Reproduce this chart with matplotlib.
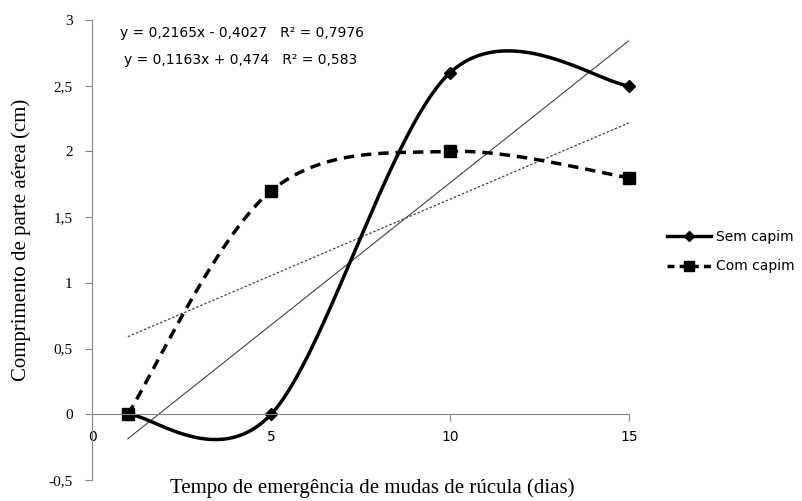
import numpy as np
import matplotlib.pyplot as plt

# data
dias = [1, 5, 10, 15]
sem_capim = [0, 0, 2.6, 2.5]
com_capim = [0, 1.7, 2.0, 1.8]
# linear trendlines (slope, intercept) from the equations shown
sem_fit = (0.2165, -0.4027)
com_fit = (0.1163, 0.474)
eq_sem = "y = 0,2165x - 0,4027   R² = 0,7976"
eq_com = "y = 0,1163x + 0,474   R² = 0,583"
yticks = [-0.5, 0, 0.5, 1, 1.5, 2, 2.5, 3]
xticks = [0, 5, 10, 15]


def smooth(xs, ys, n=60):
    # excel-like smoothed line: cubic bezier through the points
    p = np.column_stack([xs, ys]).astype(float)
    out = []
    for i in range(len(p) - 1):
        p0 = p[i - 1] if i > 0 else p[i]
        p1, p2 = p[i], p[i + 1]
        p3 = p[i + 2] if i + 2 < len(p) else p[i + 1]
        c1 = p1 + (p2 - p0) / 6
        c2 = p2 - (p3 - p1) / 6
        t = np.linspace(0, 1, n)[:, None]
        seg = (1 - t)**3 * p1 + 3 * (1 - t)**2 * t * c1 + 3 * (1 - t) * t**2 * c2 + t**3 * p2
        out.append(seg)
    seg = np.vstack(out)
    return seg[:, 0], seg[:, 1]


fig = plt.figure(figsize=(8.03, 5.01), dpi=100)
ax = fig.add_axes([0.1146, 0.042, 0.669, 0.918])

gray = '#888888'
# trendlines
xf = np.array([dias[0], dias[-1]])
ax.plot(xf, sem_fit[0] * xf + sem_fit[1], color='#444444', lw=0.8)
ax.plot(xf, com_fit[0] * xf + com_fit[1], color='#444444', lw=0.9, ls=(0, (2, 1.5)))

sx, sy = smooth(dias, sem_capim)
ax.plot(sx, sy, color='black', lw=2.5, clip_on=False)
ax.plot(dias, sem_capim, ls='none', marker='D', ms=6, color='black', clip_on=False)
cx, cy = smooth(dias, com_capim)
ax.plot(cx, cy, color='black', lw=2.5, ls=(0, (3, 2)), clip_on=False)
ax.plot(dias, com_capim, ls='none', marker='s', ms=9, color='black', clip_on=False)

# legend handles
h1, = ax.plot([], [], color='black', lw=2.5, marker='D', ms=5)
h2, = ax.plot([], [], color='black', lw=2.5, ls=(0, (2, 1.5)), marker='s', ms=7)
leg = fig.legend([h1, h2], ['Sem capim', 'Com capim'], loc='center left',
                 bbox_to_anchor=(0.815, 0.498), frameon=False, handlelength=3.2,
                 handletextpad=0.3, labelspacing=1.15,
                 prop={'family': 'DejaVu Sans', 'size': 10})

ax.set_xlim(0, 15)
ax.set_ylim(-0.5, 3)
ax.set_xticks(xticks)
ax.set_yticks(yticks)
ax.set_xticklabels([str(v) for v in xticks], family='Liberation Serif', fontsize=11)
ax.set_yticklabels([('%g' % v).replace('.', ',') for v in yticks],
                   family='Liberation Serif', fontsize=11)

for s in ['top', 'right']:
    ax.spines[s].set_visible(False)
ax.spines['bottom'].set_position(('data', 0))
ax.spines['bottom'].set_color(gray)
ax.spines['left'].set_color(gray)
ax.tick_params(axis='both', color=gray, length=5, direction='out')
ax.tick_params(axis='y', pad=9)
ax.tick_params(axis='x', pad=6)

ax.text(0.279, 0.972, eq_sem, transform=ax.transAxes, ha='center', va='center',
        family='DejaVu Sans', fontsize=10)
ax.text(0.277, 0.913, eq_com, transform=ax.transAxes, ha='center', va='center',
        family='DejaVu Sans', fontsize=10)

fig.text(0.463, 0.026, 'Tempo de emergência de mudas de rúcula (dias)',
         ha='center', va='center', family='Liberation Serif', fontsize=15)
fig.text(0.026, 0.521, 'Comprimento de parte aérea (cm)', rotation=90,
         ha='center', va='center', family='Liberation Serif', fontsize=15)

fig.savefig('out.png', dpi=100)
